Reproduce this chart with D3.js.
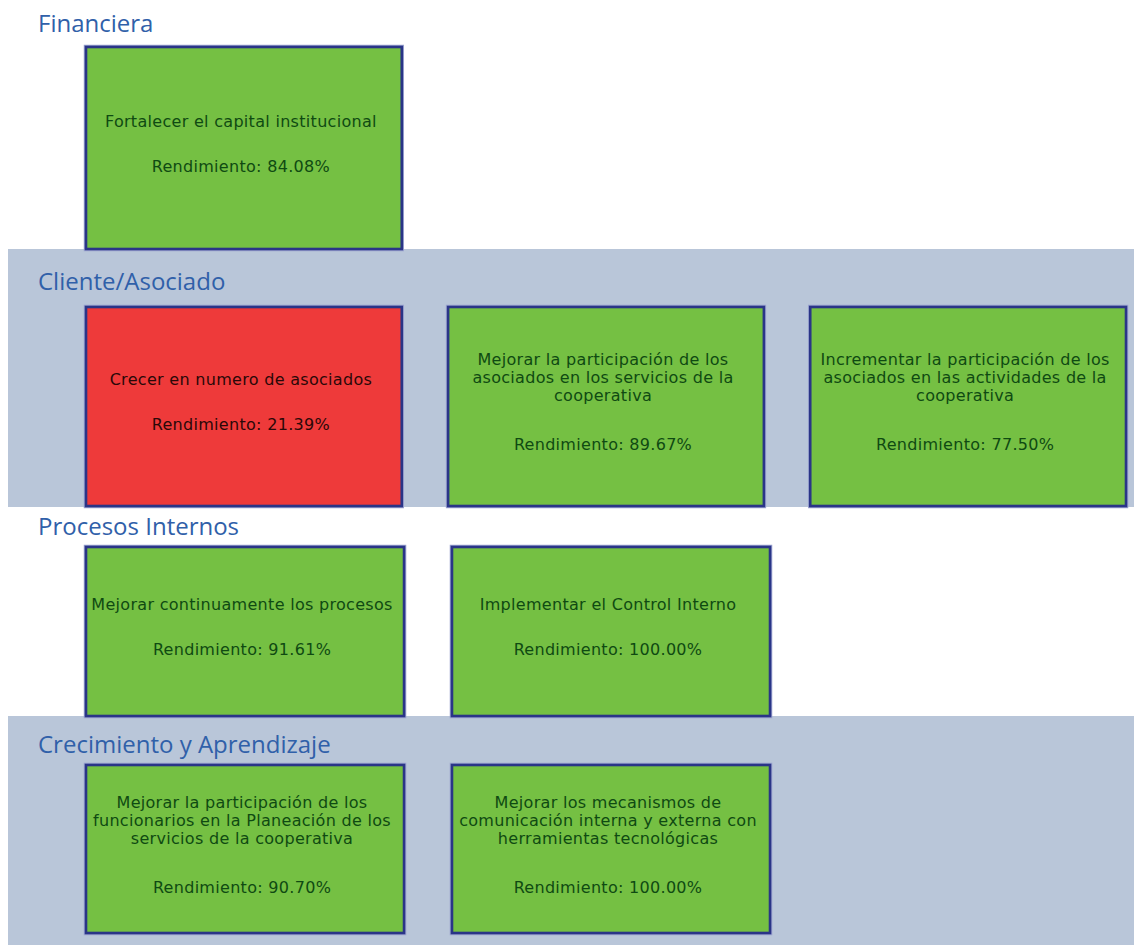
<!DOCTYPE html>
<html>
<head>
<meta charset="utf-8">
<script src="https://cdn.jsdelivr.net/npm/d3@7"></script>
<style>
  html, body { margin: 0; padding: 0; background: #ffffff; }
  svg { display: block; }
</style>
</head>
<body>
<div id="chart"></div>
<script>
// ---- DATA ----
const perspectives = ["Financiera", "Cliente/Asociado", "Procesos Internos", "Crecimiento y Aprendizaje"];
const objectivePerspective = [0, 1, 1, 1, 2, 2, 3, 3];
const objectiveColumn = [0, 0, 1, 2, 0, 1, 0, 1];
const objectiveLabels = [
  "Fortalecer el capital institucional",
  "Crecer en numero de asociados",
  "Mejorar la participación de los\nasociados en los servicios de la\ncooperativa",
  "Incrementar la participación de los\nasociados en las actividades de la\ncooperativa",
  "Mejorar continuamente los procesos",
  "Implementar el Control Interno",
  "Mejorar la participación de los\nfuncionarios en la Planeación de los\nservicios de la cooperativa",
  "Mejorar los mecanismos de\ncomunicación interna y externa con\nherramientas tecnológicas"
];
const rendimiento = [84.08, 21.39, 89.67, 77.50, 91.61, 100.00, 90.70, 100.00];
const thresholds = [50];               // below -> red, otherwise green
const statusColors = ["#ee3a3a", "#75c043"];
const statusText = ["#2a0808", "#0f4a12"];

// ---- LAYOUT ----
const W = 1134, H = 945;
const bandTop = [0, 249, 507, 716];
const bandBottom = [249, 507, 716, 945];
const shaded = [false, true, false, true];
const titleBase = [32, 290, 535, 753];
const boxTop = [47, 307, 547, 765];
const boxBottom = [249, 506, 716, 933];

const svg = d3.select("#chart").append("svg").attr("width", W).attr("height", H);

// column scales: upper rows and lower rows are laid out slightly differently
const xUpper = d3.scaleBand().domain([0, 1, 2]).range([86, 1126]).paddingInner(0.128).paddingOuter(0);
const xLower = d3.scaleBand().domain([0, 1, 2]).range([86, 1136]).paddingInner(0.131).paddingOuter(0);
const xFor = p => (p < 2 ? xUpper : xLower);
const color = d3.scaleThreshold().domain(thresholds).range(statusColors);
const txtColor = d3.scaleThreshold().domain(thresholds).range(statusText);

// bands
const secs = svg.selectAll("g.sec").data(perspectives).join("g").attr("class", "sec");
secs.append("rect")
  .attr("x", 8).attr("y", (d, i) => bandTop[i])
  .attr("width", W - 8).attr("height", (d, i) => bandBottom[i] - bandTop[i])
  .attr("fill", (d, i) => shaded[i] ? "#b9c6d9" : "none");
secs.append("text")
  .attr("x", 38).attr("y", (d, i) => titleBase[i])
  .attr("font-family", "'Open Sans', sans-serif")
  .attr("font-size", 24)
  .attr("fill", "#3060a9")
  .text(d => d);

// boxes
const objs = rendimiento.map((v, i) => ({
  v, label: objectiveLabels[i], p: objectivePerspective[i], c: objectiveColumn[i]
}));

const g = svg.selectAll("g.obj").data(objs).join("g").attr("class", "obj");
g.append("rect")
  .attr("x", d => xFor(d.p)(d.c)).attr("y", d => boxTop[d.p])
  .attr("width", d => xFor(d.p).bandwidth()).attr("height", d => boxBottom[d.p] - boxTop[d.p])
  .attr("fill", d => color(d.v))
  .attr("stroke", "#9aa2cf").attr("stroke-width", 4.5);
g.append("rect")
  .attr("x", d => xFor(d.p)(d.c)).attr("y", d => boxTop[d.p])
  .attr("width", d => xFor(d.p).bandwidth()).attr("height", d => boxBottom[d.p] - boxTop[d.p])
  .attr("fill", d => color(d.v))
  .attr("stroke", "#2a3587").attr("stroke-width", 2.6);

const lh = 18;
g.each(function(d) {
  const lines = d.label.split("\n");
  const gap = lines.length > 1 ? 49 : 45;
  const blockH = (lines.length - 1) * lh + gap;
  const xs = xFor(d.p);
  const cx = xs(d.c) + xs.bandwidth() / 2 - 3;
  const cy = (boxTop[d.p] + boxBottom[d.p]) / 2;
  const y0 = cy - blockH / 2 - 4;
  const t = d3.select(this).append("text")
    .attr("text-anchor", "middle")
    .attr("font-family", "'DejaVu Sans', sans-serif")
    .attr("font-size", 16)
    .attr("letter-spacing", 0.3)
    .attr("fill", txtColor(d.v));
  lines.forEach((ln, k) => {
    t.append("tspan").attr("x", cx).attr("y", y0 + k * lh + 5).text(ln);
  });
  t.append("tspan").attr("x", cx).attr("y", y0 + (lines.length - 1) * lh + gap + 5)
    .text("Rendimiento: " + d3.format(".2f")(d.v) + "%");
});
</script>
</body>
</html>
